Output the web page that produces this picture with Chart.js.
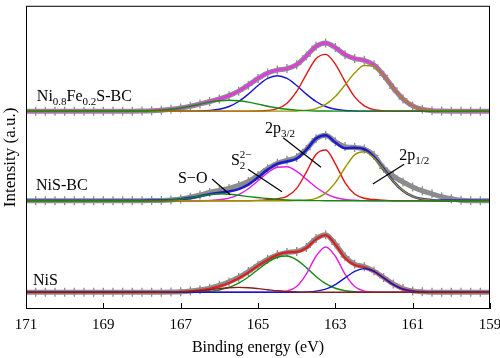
<!DOCTYPE html>
<html><head><meta charset="utf-8">
<script src="https://cdn.jsdelivr.net/npm/chart.js@4.4.1/dist/chart.umd.min.js"></script>
<style>html,body{margin:0;padding:0;background:#fff;}canvas{display:block;}</style>
</head><body>
<canvas id="c" width="500" height="358"></canvas>
<script>
// ---------- data (binding energy in eV, intensity in arbitrary units) ----------
const tickValues = [171, 169, 167, 165, 163, 161, 159];
const tickLabels = ['171', '169', '167', '165', '163', '161', '159'];

const energyRaw = [171,170.75,170.5,170.25,170,169.75,169.5,169.25,169,168.75,168.5,168.25,168,167.75,167.5,167.25,167,166.75,166.5,166.25,166,165.75,165.5,165.25,165,164.75,164.5,164.25,164,163.75,163.5,163.25,163,162.75,162.5,162.25,162,161.75,161.5,161.25,161,160.75,160.5,160.25,160,159.75,159.5,159.25,159];
const energyFit = [171,168,167.75,167.5,167.25,167,166.75,166.5,166.25,166,165.75,165.5,165.25,165,164.75,164.5,164.25,164,163.75,163.5,163.25,163,162.75,162.5,162.25,162,161.75,161.5,161.25,161,160.75,160.5,160.25,159];

// Ni0.8Fe0.2S-BC (top)
const topRaw   = [0,0,0,0,0,0,0,0,0,0,0,0,0.2,0.5,1.0,1.9,3.2,5.0,7.3,9.8,12.4,15.7,20.3,26.4,33.2,38.8,41.7,43.2,47.2,56.0,65.8,69.3,64.6,57.4,53.4,51.6,46.8,36.4,23.4,12.3,5.3,1.8,0.5,0.1,0,0,0,0,0];
const topEnv   = [0,0.2,0.5,1.0,1.9,3.2,5.0,7.3,9.8,12.4,15.7,20.3,26.4,33.2,38.8,41.7,43.2,47.2,56.0,65.8,69.3,64.6,57.4,53.4,51.6,46.8,36.4,23.4,12.3,5.3,1.8,0.5,0.1,0];
const topGreen = [0,0.2,0.5,1.0,1.9,3.2,5.0,7.1,9.1,10.5,11,10.5,9.1,7.1,5.0,3.2,1.9,1.0,0.5,0.2,0.1,0,0,0,0,0,0,0,0,0,0,0,0,0];
const topBlue  = [0,0,0,0,0,0,0,0.2,0.7,1.9,4.7,9.8,17.3,26.0,33.2,36,33.2,26.0,17.3,9.8,4.7,1.9,0.7,0.2,0,0,0,0,0,0,0,0,0,0];
const topRed   = [0,0,0,0,0,0,0,0,0,0,0,0,0,0.1,0.6,2.5,8.1,20.0,37.4,53.2,57.7,47.8,30.2,14.5,5.3,1.5,0.3,0,0,0,0,0,0,0];
const topOlive = [0,0,0,0,0,0,0,0,0,0,0,0,0,0,0,0,0,0.2,0.8,2.6,6.8,14.9,26.5,38.7,46.3,45.3,36.1,23.4,12.3,5.3,1.8,0.5,0.1,0];

// NiS-BC (middle)
const midRaw   = [0,0,0,0,0,0,0,0,0,0,0,0,0,0.1,0.3,0.8,1.8,3.5,5.8,8.5,10.5,12.5,15.5,19.5,25.5,32.5,38,41,44,52,63,66.5,60,55,54,52.5,46,33,25,19,14,10,7,4,2,0.5,0,0,0];
const midEnv   = [0,0,0.1,0.25,0.7,1.5,2.9,4.6,6.5,8.0,9.3,11.8,16.4,23.7,31.6,37.4,39.8,42.8,51.7,63.2,66.5,59.1,53.3,53.8,52.3,44.6,32.3,19.7,10.2,4.4,1.6,0.5,0.1,0];
const midGreen = [0,0,0.1,0.25,0.7,1.5,2.9,4.6,6.2,7.0,6.6,5.5,4.2,3.2,2.2,1.4,0.8,0.4,0.2,0.1,0,0,0,0,0,0,0,0,0,0,0,0,0,0];
const midMag   = [0,0,0,0,0,0,0,0,0.3,1.0,2.7,6.3,12.2,20.2,28.4,34.0,34.5,29.8,21.9,13.7,7.3,3.3,1.3,0.4,0.1,0,0,0,0,0,0,0,0,0];
const midRed   = [0,0,0,0,0,0,0,0,0,0,0,0,0,0.3,1,2,4.5,12.5,29,47,51.5,37.5,18.5,6.8,2.5,1.2,0.5,0,0,0,0,0,0,0];
const midOlive = [0,0,0,0,0,0,0,0,0,0,0,0,0,0,0,0,0,0.1,0.6,2.4,7.7,18.3,33.5,46.6,49.7,43.4,31.8,19.7,10.2,4.4,1.6,0.5,0.1,0];

// NiS (bottom)
const botRaw   = [0,0,0,0,0,0,0,0,0,0,0,0,0,0,0.1,0.3,0.6,1.3,2.5,4.2,7,10.5,15,21,27.5,33.5,38,40.5,41.5,45.5,54.5,58.5,49,36,28.5,26,21.5,15,8.5,3.8,1.4,0.4,0,0,0,0,0,0,0];
const botEnv   = [0,0,0,0,0.1,0.35,0.9,1.85,3.5,6.0,9.5,14.2,20.1,26.8,33.0,38,40.5,41,45,53.8,58.0,48.5,34.7,27.6,25.4,21.35,14.6,7.8,3.2,1.1,0.3,0,0,0];
const botSmall = [0,0,0,0,0.1,0.35,0.8,1.5,2.6,3.7,4.6,5,4.6,3.7,2.6,1.5,0.8,0.35,0.1,0,0,0,0,0,0,0,0,0,0,0,0,0,0,0];
const botGreen = [0,0,0,0,0,0,0.1,0.35,0.9,2.3,4.9,9.2,15.5,23.1,30.4,35.6,36.9,32.9,25.0,16.1,8.8,4.1,1.6,0.5,0.2,0,0,0,0,0,0,0,0,0];
const botMag   = [0,0,0,0,0,0,0,0,0,0,0,0,0,0,0,0.15,1.2,5.9,18.5,36.6,46,36.6,18.5,5.9,1.2,0.15,0,0,0,0,0,0,0,0];
const botBlue  = [0,0,0,0,0,0,0,0,0,0,0,0,0,0,0,0,0,0,0.3,1.1,3.2,7.8,14.6,21.2,24,21.2,14.6,7.8,3.2,1.1,0.3,0,0,0];

// ---------- layout / style ----------
const FONT = "'Liberation Serif', 'DejaVu Serif', serif";
const GRAY = '#8c8c8c';
const OFF = { top: 201, mid: 110, bot: 17 };   // vertical stacking of the three spectra

function pts(xs, ys, off) { return xs.map((x, i) => ({ x: x, y: ys[i] + off })); }
function fit(ys, off, color, width, order) {
  return { data: pts(energyFit, ys, off), borderColor: color, borderWidth: width, pointRadius: 0,
           fill: false, cubicInterpolationMode: 'monotone', order: order };
}
function raw(ys, off) {
  return { data: pts(energyRaw, ys, off), borderColor: GRAY, borderWidth: 5, pointStyle: 'cross',
           pointRadius: 4.5, pointBorderWidth: 1.3, pointBorderColor: GRAY, pointBackgroundColor: GRAY,
           fill: false, cubicInterpolationMode: 'monotone', order: 3 };
}

const datasets = [
  // top
  raw(topRaw, OFF.top),
  fit(topEnv, OFF.top, '#e03ce0', 2.6, 2),
  fit(topGreen, OFF.top, '#138a13', 1.4, 1),
  fit(topOlive, OFF.top, '#9a9400', 1.4, 1),
  fit(topRed, OFF.top, '#e01414', 1.4, 1),
  fit(topBlue, OFF.top, '#1414d0', 1.4, 1),
  // middle
  raw(midRaw, OFF.mid),
  fit(midEnv, OFF.mid, '#1a1ad2', 2.6, 2),
  fit(midGreen, OFF.mid, '#138a13', 1.4, 1),
  fit(midOlive, OFF.mid, '#9a9400', 1.4, 1),
  fit(midRed, OFF.mid, '#e01414', 1.4, 1),
  fit(midMag, OFF.mid, '#e020e0', 1.4, 1),
  // bottom
  raw(botRaw, OFF.bot),
  fit(botEnv, OFF.bot, '#e01e1e', 2.2, 2),
  fit(botSmall, OFF.bot, '#8b1c1c', 1.4, 0),
  fit(botBlue, OFF.bot, '#1414d0', 1.4, 1),
  fit(botMag, OFF.bot, '#e020e0', 1.4, 1),
  fit(botGreen, OFF.bot, '#138a13', 1.4, 1)
];

// annotation texts (positions in energy / intensity units)
const labels = [
  { e: 170.72, v: 211, parts: [{t:'Ni'},{t:'0.8',s:'sub'},{t:'Fe'},{t:'0.2',s:'sub'},{t:'S-BC'}] },
  { e: 170.74, v: 121, parts: [{t:'NiS-BC'}] },
  { e: 170.82, v: 24,  parts: [{t:'NiS'}] },
  { e: 167.07, v: 128, parts: [{t:'S\u2212O'}] },
  { e: 165.70, v: 146, parts: [{t:'S'},{t:'2',s:'sub'},{t:'2\u2212',s:'sup',stack:true}] },
  { e: 164.82, v: 179, parts: [{t:'2p'},{t:'3/2',s:'sub'}] },
  { e: 161.35, v: 151, parts: [{t:'2p'},{t:'1/2',s:'sub'}] }
];
const leaders = [
  [166.19, 132, 165.72, 116],
  [165.26, 142, 164.38, 119],
  [164.35, 174, 163.37, 144],
  [161.22, 147, 162.03, 127]
];

const decor = {
  id: 'decor',
  afterDatasetsDraw(chart) {
    const { ctx, chartArea: a, scales: { x, y } } = chart;
    ctx.save();
    ctx.strokeStyle = '#000';
    ctx.lineWidth = 1;
    ctx.strokeRect(a.left + 0.5, a.top + 0.5, a.right - a.left - 1, a.bottom - a.top - 1);
    tickValues.forEach(v => {
      const px = Math.round(x.getPixelForValue(v)) + 0.5;
      ctx.beginPath(); ctx.moveTo(px, a.bottom); ctx.lineTo(px, a.bottom - 6); ctx.stroke();
    });
    ctx.lineWidth = 1.2;
    leaders.forEach(l => {
      ctx.beginPath();
      ctx.moveTo(x.getPixelForValue(l[0]), y.getPixelForValue(l[1]));
      ctx.lineTo(x.getPixelForValue(l[2]), y.getPixelForValue(l[3]));
      ctx.stroke();
    });
    ctx.fillStyle = '#000';
    ctx.textBaseline = 'alphabetic';
    ctx.textAlign = 'left';
    labels.forEach(lb => {
      let cx = x.getPixelForValue(lb.e);
      const by = y.getPixelForValue(lb.v);
      let prevX = cx;
      lb.parts.forEach(p => {
        const size = p.s ? 11 : 16;
        ctx.font = size + 'px ' + FONT;
        const dy = p.s === 'sub' ? 4 : (p.s === 'sup' ? -7 : 0);
        const drawX = p.stack ? prevX : cx;
        ctx.fillText(p.t, drawX, by + dy);
        const w = ctx.measureText(p.t).width;
        prevX = cx;
        cx = Math.max(cx, drawX + w);
      });
    });
    ctx.restore();
  }
};

new Chart(document.getElementById('c'), {
  type: 'line',
  data: { datasets: datasets },
  options: {
    responsive: false, animation: false, devicePixelRatio: 1,
    layout: { padding: { top: 1, right: 10, left: 0, bottom: 0 } },
    plugins: { legend: { display: false }, tooltip: { enabled: false } },
    scales: {
      x: {
        type: 'linear', min: 159, max: 171, reverse: true,
        afterBuildTicks(s) { s.ticks = tickValues.map(v => ({ value: v })); },
        afterFit(s) { s.height = 49; s.paddingLeft = 0; s.paddingRight = 0; },
        grid: { display: false, drawTicks: false }, border: { display: false },
        ticks: { callback: v => tickLabels[tickValues.indexOf(v)], font: { family: FONT, size: 15 },
                 color: '#000', padding: 7, maxRotation: 0, autoSkip: false },
        title: { display: true, text: 'Binding energy (eV)', font: { family: FONT, size: 16 }, color: '#000', padding: 1 }
      },
      y: {
        min: 0, max: 308,
        afterFit(s) { s.width = 26; },
        grid: { display: false, drawTicks: false }, border: { display: false },
        ticks: { display: false },
        title: { display: true, text: 'Intensity (a.u.)', font: { family: FONT, size: 17 }, color: '#000', padding: 0 }
      }
    }
  },
  plugins: [decor]
});
</script>
</body></html>
